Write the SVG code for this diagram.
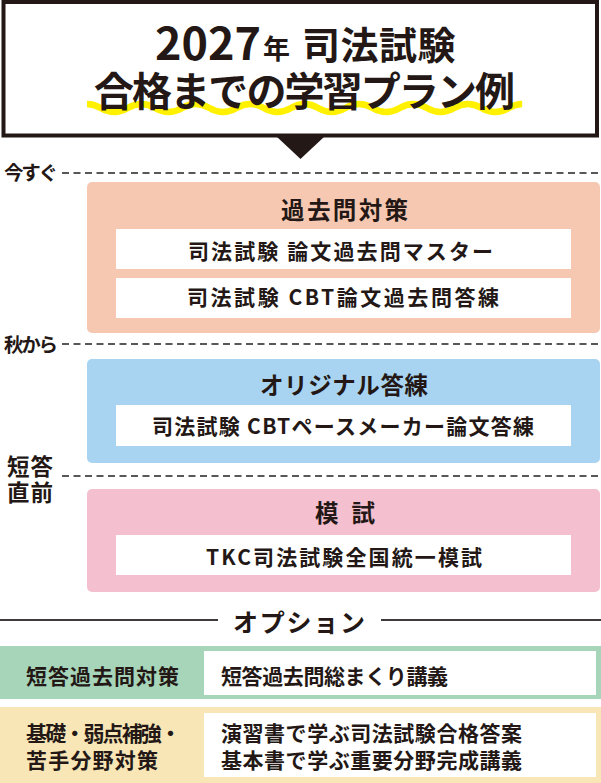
<svg xmlns="http://www.w3.org/2000/svg" width="601" height="783" viewBox="0 0 601 783">
<style>
text{font-family:"Noto Sans CJK JP","Noto Sans",sans-serif;font-weight:700;fill:#231815}
.dash{stroke:#595757;stroke-width:2;stroke-dasharray:7 4.5;fill:none}
.rule{stroke:#3e3a39;stroke-width:2;fill:none}
.wb{fill:#ffffff}
.t1{font-size:23.5px}
.t2{font-size:21px}
.lab{font-size:19.5px}
.lab2{font-size:22.5px}
.opt{font-size:21px}
</style>
<rect width="601" height="783" fill="#ffffff"/>
<g id="title">
<rect x="3.5" y="2" width="593.5" height="133.5" fill="#ffffff" stroke="#231815" stroke-width="4"/>
<polygon points="276,136 325,136 300.5,159" fill="#231815"/>
<path d="M87 104 c13.6 0 13.6 8 27.2 8 s13.6 -8 27.2 -8 s13.6 8 27.2 8 s13.6 -8 27.2 -8 s13.6 8 27.2 8 s13.6 -8 27.2 -8 s13.6 8 27.2 8 s13.6 -8 27.2 -8 s13.6 8 27.2 8 s13.6 -8 27.2 -8 s13.6 8 27.2 8 s13.6 -8 27.2 -8 s13.6 8 27.2 8 s13.6 -8 27.2 -8 s13.6 8 27.2 8 s13.6 -8 27.2 -8" fill="none" stroke="#fff100" stroke-width="6.5"/>
<text><tspan x="155" y="60" font-size="44" textLength="106" lengthAdjust="spacingAndGlyphs">2027</tspan><tspan x="263" y="59" font-size="27">年</tspan><tspan x="302" y="59" font-size="38" letter-spacing="0.5">司法試験</tspan><tspan x="94" y="106" font-size="40" textLength="421" lengthAdjust="spacing">合格までの学習プラン例</tspan></text>
</g>
<g id="connectors">
<line class="dash" x1="62" y1="173" x2="601" y2="173"/>
<line class="dash" x1="62" y1="344" x2="601" y2="344"/>
<line class="dash" x1="62" y1="476" x2="601" y2="476"/>
<line class="rule" x1="0" y1="620" x2="218" y2="620"/>
<line class="rule" x1="381" y1="620" x2="601" y2="620"/>
</g>
<g id="timeline-labels">
<text class="lab" x="4" y="180" textLength="54" lengthAdjust="spacing">今すぐ</text>
<text class="lab" x="4" y="352" textLength="54" lengthAdjust="spacing">秋から</text>
<text class="lab2" letter-spacing="1"><tspan x="7" y="475">短答</tspan><tspan x="7" y="501">直前</tspan></text>
</g>
<g id="past-exam">
<rect x="87" y="182" width="513" height="151" rx="5" fill="#f7c8b1"/>
<text class="t1" x="281" y="219" textLength="127" lengthAdjust="spacing">過去問対策</text>
<rect class="wb" x="116" y="229" width="455" height="40"/>
<text class="t2" x="188" y="259" textLength="305" lengthAdjust="spacing">司法試験 論文過去問マスター</text>
<rect class="wb" x="116" y="278" width="455" height="40"/>
<text class="t2" x="187" y="305" textLength="312" lengthAdjust="spacing">司法試験 CBT論文過去問答練</text>
</g>
<g id="original">
<rect x="87" y="359" width="513" height="104" rx="5" fill="#a8d4f2"/>
<text class="t1" x="260" y="394" textLength="168" lengthAdjust="spacing">オリジナル答練</text>
<rect class="wb" x="116" y="405" width="455" height="41"/>
<text class="t2" x="152" y="434" textLength="382" lengthAdjust="spacing">司法試験 CBTペースメーカー論文答練</text>
</g>
<g id="mock">
<rect x="87" y="489" width="513" height="103" rx="5" fill="#f4bfcf"/>
<text class="t1" x="315" y="522" textLength="60" lengthAdjust="spacing">模 試</text>
<rect class="wb" x="116" y="535" width="455" height="40"/>
<text class="t2" x="206" y="565" textLength="276" lengthAdjust="spacing">TKC司法試験全国統一模試</text>
</g>
<g id="option-header">
<text x="233" y="632" font-size="25" textLength="132" lengthAdjust="spacing">オプション</text>
</g>
<g id="option-short">
<rect x="0" y="646" width="601" height="53" fill="#a7d5b9"/>
<text class="opt" x="26" y="684" textLength="153" lengthAdjust="spacing">短答過去問対策</text>
<rect class="wb" x="204" y="651" width="392" height="44"/>
<text class="opt" x="221" y="684" textLength="227" lengthAdjust="spacing">短答過去問総まくり講義</text>
</g>
<g id="option-basic">
<rect x="0" y="707" width="601" height="76" fill="#f9e6b6"/>
<text class="opt"><tspan x="26" y="741" textLength="155" lengthAdjust="spacing">基礎・弱点補強・</tspan><tspan x="26" y="768" textLength="132" lengthAdjust="spacing">苦手分野対策</tspan></text>
<rect class="wb" x="204" y="713" width="392" height="64"/>
<text class="opt"><tspan x="221" y="741" textLength="301" lengthAdjust="spacing">演習書で学ぶ司法試験合格答案</tspan><tspan x="221" y="768" textLength="301" lengthAdjust="spacing">基本書で学ぶ重要分野完成講義</tspan></text>
</g>
</svg>
